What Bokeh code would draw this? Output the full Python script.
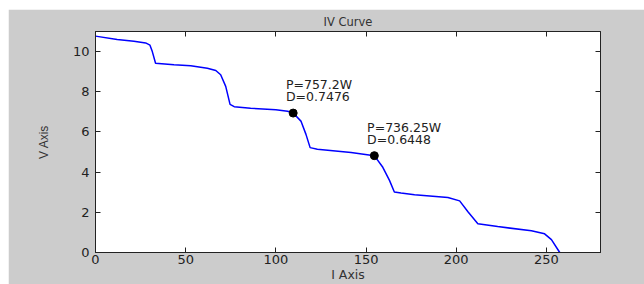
from bokeh.plotting import figure
from bokeh.models import Range1d, LinearAxis, FixedTicker
from bokeh.core.properties import value
from bokeh.embed import file_html
from bokeh.resources import INLINE

# Data
current = [0, 12, 21.3, 27.8, 30.2, 31.5, 33.3, 43.5, 52.8, 62, 66.7, 69.4, 72.2, 74.6,
           76.9, 86, 100, 106.5, 109.6, 113.9, 116.7, 119, 123, 141.7, 154.6, 159.3,
           163, 165.7, 169.4, 176.9, 195.4, 201.9, 206.5, 212, 223, 241.7, 249, 252.8, 257.4]
voltage = [10.77, 10.6, 10.52, 10.43, 10.32, 10.0, 9.42, 9.35, 9.29, 9.17, 9.06, 8.85,
           8.27, 7.37, 7.26, 7.18, 7.1, 7.03, 6.94, 6.54, 5.88, 5.22, 5.14, 4.98, 4.82,
           4.24, 3.59, 3.01, 2.96, 2.88, 2.74, 2.57, 2.03, 1.43, 1.29, 1.08, 0.93, 0.64, 0.0]
mark_i = [109.6, 154.6]
mark_v = [6.94, 4.82]
mark_p = ["P=757.2W", "P=736.25W"]
mark_d = ["D=0.7476", "D=0.6448"]
x_ticks = [0, 50, 100, 150, 200, 250]
y_ticks = [0, 2, 4, 6, 8, 10]

FONT = "DejaVu Sans"
GRAY = "#cccccc"
INK = "#222222"

p = figure(width=636, height=275, output_backend="svg", toolbar_location=None,
           x_range=Range1d(0, 280), y_range=Range1d(0, 11),
           x_axis_location=None, y_axis_location=None,
           min_border_left=87, min_border_right=44, min_border_top=21, min_border_bottom=0)
p.margin = (9, 0, 0, 8)
p.border_fill_color = GRAY
p.background_fill_color = "white"
p.outline_line_color = INK
p.outline_line_width = 1
p.xgrid.visible = False
p.ygrid.visible = False

p.title.text = "IV Curve"
p.title.align = "center"
p.title.text_font = FONT
p.title.text_font_size = "11.5px"
p.title.text_font_style = "normal"
p.title.text_color = "#333333"
p.title.standoff = 6
p.title.offset = -11


def make_axis(ticks, show_labels):
    ax = LinearAxis(ticker=FixedTicker(ticks=ticks))
    ax.major_tick_in = 5
    ax.major_tick_out = 0
    ax.minor_tick_in = 0
    ax.minor_tick_out = 0
    ax.axis_line_color = INK
    ax.major_tick_line_color = INK
    ax.major_label_text_font = FONT
    if show_labels:
        ax.major_label_text_font_size = "13px"
        ax.major_label_text_color = INK
    else:
        ax.major_label_text_font_size = "0px"
        ax.major_label_text_color = None
        ax.major_label_standoff = 0
    return ax


bottom = make_axis(x_ticks, True)
bottom.major_label_standoff = 2
bottom.axis_label = "I Axis"
bottom.axis_label_text_font = FONT
bottom.axis_label_text_font_style = "normal"
bottom.axis_label_text_font_size = "12.5px"
bottom.axis_label_text_color = "#333333"
bottom.axis_label_standoff = 0
p.add_layout(bottom, "below")

left = make_axis(y_ticks, True)
left.major_label_standoff = 6
left.axis_label = "V Axis"
left.axis_label_text_font = "Liberation Sans"
left.axis_label_text_font_style = "normal"
left.axis_label_text_font_size = "12px"
left.axis_label_text_color = "#333333"
left.axis_label_standoff = 19
p.add_layout(left, "left")

p.add_layout(make_axis(x_ticks, False), "above")
p.add_layout(make_axis(y_ticks, False), "right")

p.line(current, voltage, line_color="#0000ff", line_width=1.5)
p.scatter(mark_i, mark_v, size=8, fill_color="black", line_color="black")

txt_x = [i - 4 for i in mark_i]
p.text(txt_x, [v + 1.4 for v in mark_v], text=mark_p, text_font=value(FONT),
       text_font_size="12.5px", text_color=INK, text_baseline="middle")
p.text(txt_x, [v + 0.8 for v in mark_v], text=mark_d, text_font=value(FONT),
       text_font_size="12.5px", text_color=INK, text_baseline="middle")

open("out.html", "w").write(file_html(p, INLINE))
